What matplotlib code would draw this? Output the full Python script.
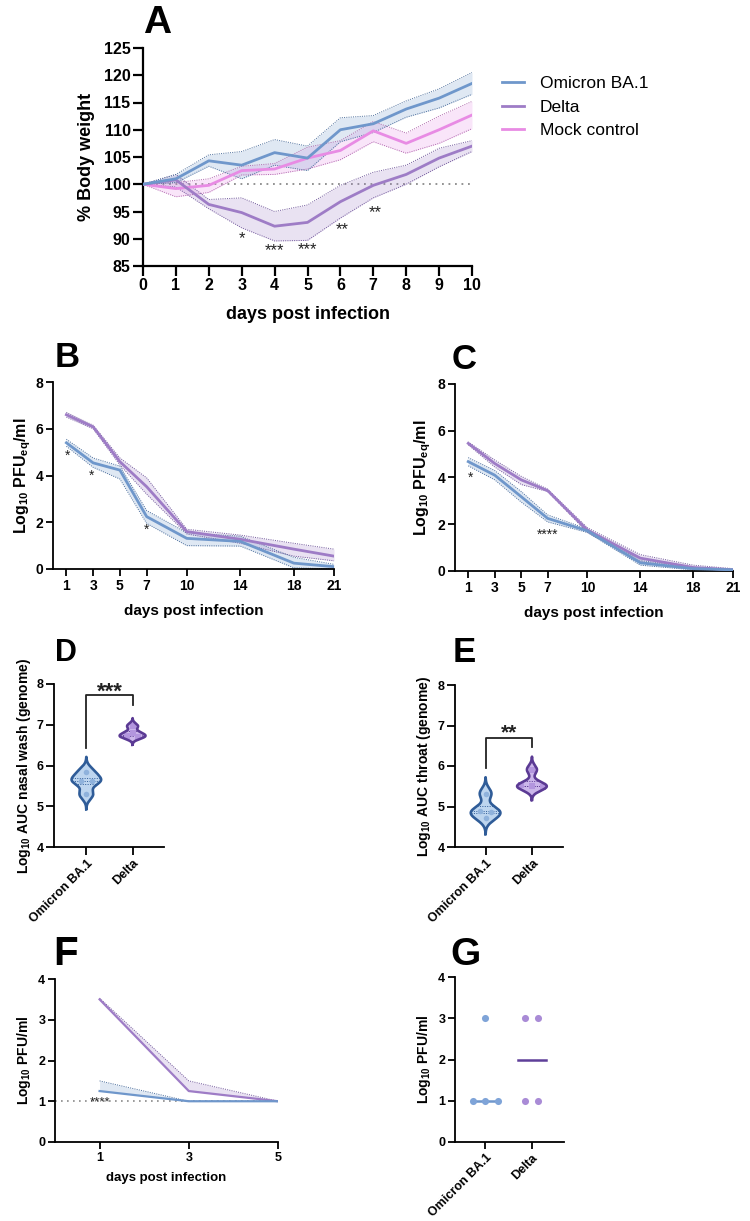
import numpy as np
import matplotlib
matplotlib.use('Agg')
import matplotlib.pyplot as plt
from matplotlib.lines import Line2D

plt.rcParams['font.family'] = ['Liberation Sans', 'DejaVu Sans']
plt.rcParams['font.weight'] = 'bold'
plt.rcParams['axes.labelweight'] = 'bold'
plt.rcParams['mathtext.default'] = 'regular'

# ---------------- data ----------------
# Panel A: body weight
days_a = [0, 1, 2, 3, 4, 5, 6, 7, 8, 9, 10]
omi_a = [100, 101.0, 104.3, 103.5, 105.8, 104.8, 110.0, 111.1, 113.8, 115.8, 118.5]
omi_a_hi = [100, 101.8, 105.4, 106.0, 108.2, 107.0, 112.2, 112.6, 115.3, 117.5, 120.5]
omi_a_lo = [100, 100.3, 103.3, 101.0, 103.5, 102.5, 107.8, 109.5, 112.3, 114.0, 116.5]
del_a = [100, 100.8, 96.3, 94.8, 92.3, 93.0, 96.8, 99.8, 101.8, 104.8, 107.0]
del_a_hi = [100, 101.8, 97.2, 97.5, 95.0, 96.2, 99.8, 102.2, 103.5, 106.6, 108.0]
del_a_lo = [100, 99.5, 95.5, 92.0, 89.6, 89.7, 93.8, 97.5, 100.0, 103.2, 106.0]
mock_a = [100, 99.2, 99.8, 102.5, 102.8, 104.8, 106.2, 109.8, 107.5, 110.0, 112.7]
mock_a_hi = [100, 100.3, 101.0, 103.3, 103.8, 106.8, 108.0, 111.5, 109.4, 112.5, 115.2]
mock_a_lo = [100, 97.7, 98.5, 101.7, 101.8, 102.8, 104.5, 107.8, 105.7, 107.5, 110.2]
sig_a_x = [3, 4, 5, 6.07, 7.06]
sig_a_y = [91.0, 88.7, 88.9, 92.6, 95.8]
sig_a_txt = ['*', '***', '***', '**', '**']

# Panel B: nasal wash
days_bc = [1, 3, 5, 7, 10, 14, 18, 21]
omi_b = [5.40, 4.54, 4.23, 2.24, 1.31, 1.18, 0.25, 0.10]
omi_b_hi = [5.55, 4.75, 4.40, 2.50, 1.55, 1.40, 0.50, 0.20]
omi_b_lo = [5.25, 4.35, 3.85, 1.95, 1.00, 0.98, 0.05, 0.00]
del_b = [6.60, 6.08, 4.59, 3.52, 1.60, 1.27, 0.85, 0.55]
del_b_hi = [6.70, 6.15, 4.75, 3.90, 1.70, 1.45, 1.10, 0.85]
del_b_lo = [6.50, 6.00, 4.45, 3.20, 1.50, 1.10, 0.55, 0.35]
sig_b_x = [1.07, 2.9, 6.98]
sig_b_y = [5.0, 4.16, 1.84]
sig_b_txt = ['*', '*', '*']

# Panel C: throat
omi_c = [4.68, 4.10, 3.18, 2.25, 1.72, 0.35, 0.10, 0.05]
omi_c_hi = [4.85, 4.30, 3.40, 2.40, 1.80, 0.45, 0.15, 0.08]
omi_c_lo = [4.50, 3.90, 2.95, 2.10, 1.65, 0.25, 0.05, 0.00]
del_c = [5.46, 4.60, 3.90, 3.44, 1.75, 0.55, 0.15, 0.05]
del_c_hi = [5.52, 4.75, 4.05, 3.50, 1.85, 0.70, 0.25, 0.10]
del_c_lo = [5.40, 4.45, 3.70, 3.40, 1.65, 0.40, 0.10, 0.00]
sig_c_x = [1.17, 7.0]
sig_c_y = [4.18, 1.72]
sig_c_txt = ['*', '****']

# Panels D/E: AUC
groups = ['Omicron BA.1', 'Delta']
auc_nasal_omi = [5.85, 5.63, 5.63, 5.29]
auc_nasal_del = [6.97, 6.80, 6.72, 6.70]
auc_throat_omi = [5.32, 4.90, 4.87, 4.72]
auc_throat_del = [5.91, 5.52, 5.50, 5.48]

# Panel F: infectious virus
days_f = [1, 3, 5]
omi_f = [1.25, 1.0, 1.0]
omi_f_hi = [1.5, 1.0, 1.0]
del_f = [3.50, 1.25, 1.0]
del_f_hi = [3.53, 1.5, 1.0]

# Panel G
g_omi = [3, 1, 1, 1]
g_del = [3, 3, 1, 1]

# ---------------- style ----------------
C_OMI = '#6f97cb'
C_DEL = '#9e7cc6'
C_MOCK = '#e88be4'
E_OMI = '#4d6f9c'
E_DEL = '#70579a'
E_MOCK = '#b066ad'

W, H = 750, 1221
fig = plt.figure(figsize=(W / 100, H / 100), dpi=100)


def add_ax(l, r, t, b):
    return fig.add_axes([l / W, 1 - b / H, (r - l) / W, (b - t) / H])


def style(ax, lw=1.3, tl=5, fs=10):
    for s in ['top', 'right']:
        ax.spines[s].set_visible(False)
    for s in ['left', 'bottom']:
        ax.spines[s].set_linewidth(lw)
    ax.tick_params(width=lw, length=tl, labelsize=fs, pad=2)


def ylab(ax, text, xpx, fs):
    ax.set_ylabel(text, fontsize=fs)
    bb = ax.get_position()
    ax.yaxis.set_label_coords((xpx - bb.x0 * W) / (bb.width * W), 0.5)


def xlab(ax, text, ypx, fs):
    ax.set_xlabel(text, fontsize=fs)
    bb = ax.get_position()
    bot = (1 - bb.y0) * H
    ax.xaxis.set_label_coords(0.5, (bot - ypx) / (bb.height * H))


def band(ax, x, m, lo, hi, c, ec, lw=2.0, alpha=0.22):
    ax.fill_between(x, lo, hi, color=c, alpha=alpha, lw=0, zorder=1)
    ax.plot(x, lo, color=ec, lw=0.7, ls=(0, (1, 1.3)), zorder=2)
    ax.plot(x, hi, color=ec, lw=0.7, ls=(0, (1, 1.3)), zorder=2)
    ax.plot(x, m, color=c, lw=lw, zorder=3)


def star(ax, x, y, s, fs, weight='normal'):
    ax.annotate(s, (x, y), xytext=(0, -0.58 * fs), textcoords='offset points',
                ha='center', va='baseline', fontsize=fs, fontweight=weight,
                color='#222222', annotation_clip=False)


def letter(txt, xpx, ypx, fs):
    fig.text(xpx / W, 1 - ypx / H, txt, fontsize=fs, fontweight='bold',
             ha='left', va='baseline')


def swarm_offsets(vals, step, tol):
    vals = np.asarray(vals, float)
    offs = np.zeros(len(vals))
    used = np.zeros(len(vals), bool)
    for i in range(len(vals)):
        if used[i]:
            continue
        grp = [j for j in range(len(vals)) if not used[j] and abs(vals[j] - vals[i]) <= tol]
        n = len(grp)
        for k, j in enumerate(grp):
            offs[j] = (k - (n - 1) / 2) * step
            used[j] = True
    return offs


def violin(ax, pos, vals, fc, ec, mk, mc, half=0.32):
    v = np.asarray(vals, float)
    bw = 0.6 * np.std(v)
    ys = np.linspace(v.min() - 3 * bw, v.max() + 3 * bw, 400)
    dens = np.exp(-0.5 * ((ys[:, None] - v[None, :]) / bw) ** 2).sum(1)
    w = dens / dens.max() * half
    ax.fill_betweenx(ys, pos - w, pos + w, color=fc, lw=0, zorder=2)
    ax.plot(np.r_[pos - w, (pos + w)[::-1], pos - w[0]],
            np.r_[ys, ys[::-1], ys[0]], color=ec, lw=1.9, zorder=5,
            solid_joinstyle='round')
    for q in np.percentile(v, [25, 50, 75]):
        wq = np.interp(q, ys, w)
        ax.plot([pos - wq, pos + wq], [q, q], color=ec, lw=0.7, ls=(0, (1, 1.5)), zorder=3)
    offs = swarm_offsets(v, 0.24, 0.05)
    ax.scatter(pos + offs, v, marker=mk, s=16, color=mc, lw=0, zorder=4)


# ---------------- Panel A ----------------
axA = add_ax(143, 472, 48, 266)
style(axA, lw=1.6, tl=7, fs=11.5)
axA.axhline(100, color='#8a8a8a', lw=1.3, ls=(0, (1, 2.6)), zorder=0)
band(axA, days_a, mock_a, mock_a_lo, mock_a_hi, C_MOCK, E_MOCK)
band(axA, days_a, del_a, del_a_lo, del_a_hi, C_DEL, E_DEL)
band(axA, days_a, omi_a, omi_a_lo, omi_a_hi, C_OMI, E_OMI)
axA.set_xlim(0, 10)
axA.set_ylim(85, 125)
axA.set_xticks(days_a)
axA.set_yticks(range(85, 126, 5))
for x, y, s in zip(sig_a_x, sig_a_y, sig_a_txt):
    star(axA, x, y, s, 12)
ylab(axA, '% Body weight', 95, 13)
xlab(axA, 'days post infection', 306, 13)
letter('A', 143, 33, 28)
handles = [Line2D([], [], color=c, lw=2) for c in (C_OMI, C_DEL, C_MOCK)]
fig.legend(handles, ['Omicron BA.1', 'Delta', 'Mock control'], loc='upper left',
           bbox_to_anchor=(486 / W, 1 - 60 / H), frameon=False, handlelength=1.3,
           handletextpad=0.9, labelspacing=0.5, prop={'size': 12.5, 'weight': 'normal'})

# ---------------- Panel B ----------------
axB = add_ax(53, 334, 382, 569)
style(axB, lw=1.3, tl=5, fs=10)
band(axB, days_bc, del_b, del_b_lo, del_b_hi, C_DEL, E_DEL)
band(axB, days_bc, omi_b, omi_b_lo, omi_b_hi, C_OMI, E_OMI)
axB.set_xlim(0, 21)
axB.set_ylim(0, 8)
axB.set_xticks(days_bc)
axB.set_yticks([0, 2, 4, 6, 8])
for x, y, s in zip(sig_b_x, sig_b_y, sig_b_txt):
    star(axB, x, y, s, 10)
ylab(axB, 'Log$_{10}$ PFU$_{eq}$/ml', 33, 11.5)
xlab(axB, 'days post infection', 604, 11)
letter('B', 55, 367, 25)

# ---------------- Panel C ----------------
axC = add_ax(455, 733, 384, 571)
style(axC, lw=1.3, tl=5, fs=10)
band(axC, days_bc, del_c, del_c_lo, del_c_hi, C_DEL, E_DEL)
band(axC, days_bc, omi_c, omi_c_lo, omi_c_hi, C_OMI, E_OMI)
axC.set_xlim(0, 21)
axC.set_ylim(0, 8)
axC.set_xticks(days_bc)
axC.set_yticks([0, 2, 4, 6, 8])
for x, y, s in zip(sig_c_x, sig_c_y, sig_c_txt):
    star(axC, x, y, s, 10)
ylab(axC, 'Log$_{10}$ PFU$_{eq}$/ml', 433, 11.5)
xlab(axC, 'days post infection', 606, 11)
letter('C', 452, 369, 25)

# ---------------- Panel D ----------------
V_OMI_F, V_OMI_E, V_OMI_M = '#bdd5ef', '#2f5c98', '#8fb2dc'
V_DEL_F, V_DEL_E, V_DEL_M = '#cbb6ea', '#5b3a94', '#b396de'

axD = add_ax(54, 164, 684, 847)
style(axD, lw=1.3, tl=5.5, fs=9)
violin(axD, 0, auc_nasal_omi, V_OMI_F, V_OMI_E, 'o', V_OMI_M)
violin(axD, 1, auc_nasal_del, V_DEL_F, V_DEL_E, 's', V_DEL_M, half=0.28)
axD.set_xlim(-0.7, 1.68)
axD.set_ylim(4, 8)
axD.set_yticks([4, 5, 6, 7, 8])
axD.set_xticks([0, 1])
axD.set_xticklabels(groups, rotation=45, ha='right', rotation_mode='anchor', fontsize=9)
axD.plot([0, 0, 1, 1], [6.43, 7.72, 7.72, 7.49], color='#222222', lw=1.3, clip_on=False)
star(axD, 0.5, 7.97, '***', 16, 'bold')
ylab(axD, 'Log$_{10}$ AUC nasal wash (genome)', 33, 10)
letter('D', 55, 661, 22)

# ---------------- Panel E ----------------
axE = add_ax(455, 563, 685, 847)
style(axE, lw=1.3, tl=5.5, fs=9)
violin(axE, 0, auc_throat_omi, V_OMI_F, V_OMI_E, 'o', V_OMI_M)
violin(axE, 1, auc_throat_del, V_DEL_F, V_DEL_E, 's', V_DEL_M)
axE.set_xlim(-0.66, 1.67)
axE.set_ylim(4, 8)
axE.set_yticks([4, 5, 6, 7, 8])
axE.set_xticks([0, 1])
axE.set_xticklabels(groups, rotation=45, ha='right', rotation_mode='anchor', fontsize=9)
axE.plot([0, 0, 1, 1], [5.94, 6.7, 6.7, 6.46], color='#222222', lw=1.3, clip_on=False)
star(axE, 0.5, 6.97, '**', 15, 'bold')
ylab(axE, 'Log$_{10}$ AUC throat (genome)', 433, 10)
letter('E', 453, 662, 25)

# ---------------- Panel F ----------------
axF = add_ax(55, 278, 979, 1142)
style(axF, lw=1.3, tl=5, fs=9)
axF.plot([0, 5], [1, 1], color='#8a8a8a', lw=1.2, ls=(0, (1, 2.6)), zorder=0)
axF.fill_between(days_f, del_f, del_f_hi, color=C_DEL, alpha=0.22, lw=0)
axF.plot(days_f, del_f_hi, color=E_DEL, lw=0.7, ls=(0, (1, 1.3)))
axF.plot(days_f, del_f, color=C_DEL, lw=1.6)
axF.fill_between(days_f, omi_f, omi_f_hi, color=C_OMI, alpha=0.22, lw=0)
axF.plot(days_f, omi_f_hi, color=E_OMI, lw=0.7, ls=(0, (1, 1.3)))
axF.plot(days_f, omi_f, color=C_OMI, lw=1.6)
axF.set_xlim(0, 5)
axF.set_ylim(0, 4)
axF.set_xticks(days_f)
axF.set_yticks([0, 1, 2, 3, 4])
star(axF, 1.0, 1.08, '****', 9.5)
ylab(axF, 'Log$_{10}$ PFU/ml', 33, 10)
xlab(axF, 'days post infection', 1172, 9.5)
letter('F', 53, 965, 29)

# ---------------- Panel G ----------------
axG = add_ax(455, 564, 977, 1142)
style(axG, lw=1.3, tl=5, fs=9)
G_OMI, G_DEL = '#7fa4d8', '#a98bd6'
for pos, vals, c, mc in ((0, g_omi, G_OMI, '#6f97cc'), (1, g_del, G_DEL, '#5e3f99')):
    offs = swarm_offsets(vals, 0.27, 0.01)
    med = np.median(vals)
    axG.plot([pos - 0.3, pos + 0.3], [med, med], color=mc, lw=1.8, zorder=2)
    axG.scatter(pos + offs, vals, s=26, color=c, lw=0, zorder=3)
axG.set_xlim(-0.66, 1.7)
axG.set_ylim(0, 4)
axG.set_yticks([0, 1, 2, 3, 4])
axG.set_xticks([0, 1])
axG.set_xticklabels(groups, rotation=45, ha='right', rotation_mode='anchor', fontsize=9)
ylab(axG, 'Log$_{10}$ PFU/ml', 433, 10)
letter('G', 450, 965, 28)

fig.savefig('out.png', dpi=100)
